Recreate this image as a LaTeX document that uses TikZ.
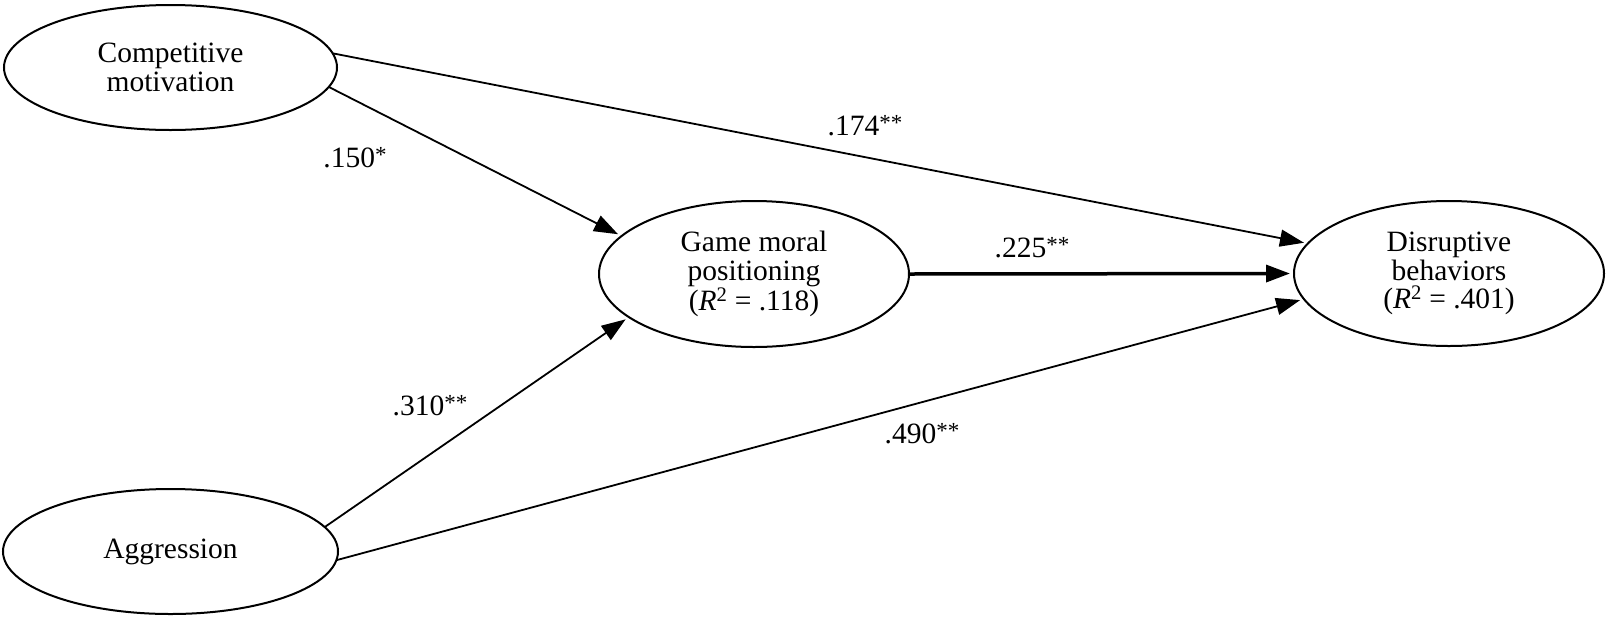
\documentclass[tikz,border=0pt]{standalone}
\usepackage{fontspec}
\setmainfont{Liberation Serif}
\usetikzlibrary{shapes.geometric,arrows.meta}
\newcommand{\sig}[1]{{\fontsize{23}{23}\selectfont\raisebox{5pt}{#1}}}
\begin{document}
\begin{tikzpicture}[x=1pt,y=-1pt,
  latent/.style={ellipse,draw,line width=2pt,inner sep=0pt,outer sep=0pt,align=center,font=\fontsize{29.5}{28.5}\selectfont},
  pathline/.style={line width=1.8pt,-{Triangle[length=24pt,width=17pt]},shorten >=4pt},
  coef/.style={anchor=base,font=\fontsize{29.5}{28.5}\selectfont,inner sep=0pt}]
\useasboundingbox[fill=white] (0,0) rectangle (1609,622);
\node[latent,minimum width=333pt,minimum height=125pt] (cm) at (170.5,67.5) {Competitive\\motivation};
\node[latent,minimum width=310pt,minimum height=146pt] (gm) at (754,274) {Game moral\\positioning\\(\textit{R}\textsuperscript{2} = .118)};
\node[latent,minimum width=310pt,minimum height=145pt] (db) at (1449,273.5) {Disruptive\\behaviors\\(\textit{R}\textsuperscript{2} = .401)};
\node[latent,minimum width=335pt,minimum height=125pt] (ag) at (170.5,551.5) {Aggression};
\draw[pathline] (cm.5.45) -- (db.168.8);
\draw[pathline] (cm.-7.3) -- (gm.164.1);
\draw[pathline,line width=3.5pt] (gm.east) -- (db.west);
\draw[pathline] (ag.9.7) -- (gm.199.7);
\draw[pathline] (ag.-3.3) -- (db.190.5);
\node[coef] (l1) at (355,167) {.150\sig{*}};
\node[coef] (l2) at (865,135) {.174\sig{**}};
\node[coef] (l3) at (1032,257) {.225\sig{**}};
\node[coef] (l4) at (430,415) {.310\sig{**}};
\node[coef] (l5) at (922,443) {.490\sig{**}};
\end{tikzpicture}
\end{document}
